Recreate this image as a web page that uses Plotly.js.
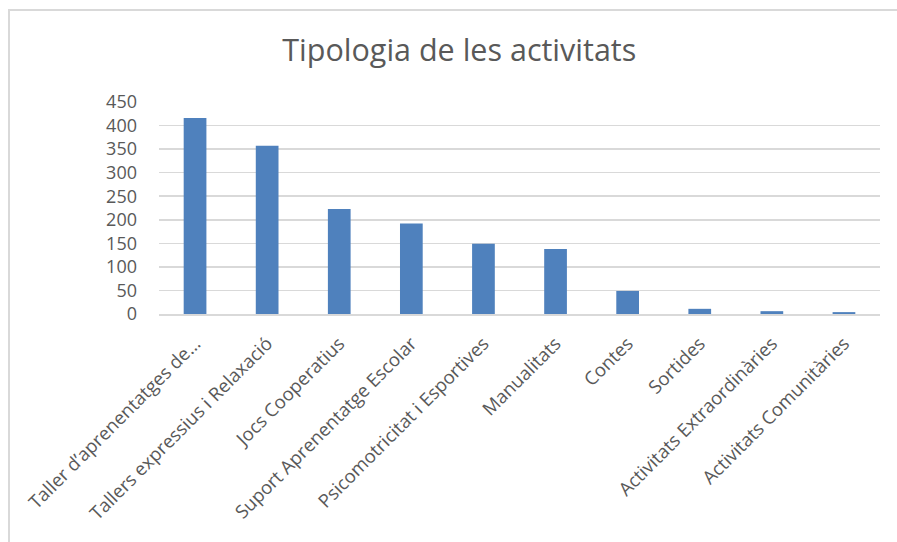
<!DOCTYPE html>
<html>
<head>
<meta charset="utf-8">
<script src="https://cdn.plot.ly/plotly-3.0.1.min.js"></script>
<style>
html,body{margin:0;padding:0;background:#fff;}
#frame{position:absolute;left:8px;top:9px;width:900px;height:540px;border-top:2px solid #d9d9d9;border-left:2px solid #d9d9d9;pointer-events:none;z-index:5;}
#chart{width:897px;height:542px;}
</style>
</head>
<body>
<div id="chart"></div>
<div id="frame"></div>
<script>
const categories = [
  "Taller d’aprenentatges de…",
  "Tallers expressius i Relaxació",
  "Jocs Cooperatius",
  "Suport Aprenentatge Escolar",
  "Psicomotricitat i Esportives",
  "Manualitats",
  "Contes",
  "Sortides",
  "Activitats Extraordinàries",
  "Activitats Comunitàries"
];
const values = [416, 357, 223, 192, 149, 138, 49, 11, 6, 4];
const yTicks = [0, 50, 100, 150, 200, 250, 300, 350, 400, 450];

const trace = {
  type: 'bar',
  x: categories,
  y: values,
  marker: {color: '#4f81bd'},
  hoverinfo: 'x+y'
};

const layout = {
  width: 897, height: 542,
  paper_bgcolor: '#ffffff', plot_bgcolor: '#ffffff',
  margin: {l: 159, r: 17, t: 102, b: 228},
  title: {text: 'Tipologia de les activitats', x: 0.512, xanchor: 'center', y: 0.907, yanchor: 'middle',
          font: {family: 'Open Sans, sans-serif', size: 30.5, color: '#595959'}},
  bargap: 0.685,
  showlegend: false,
  xaxis: {
    type: 'category',
    tickangle: -45,
    tickfont: {family: 'Open Sans, sans-serif', size: 18.5, color: '#595959'},
    showline: true, linecolor: '#d9d9d9', linewidth: 1.5,
    ticks: '', showgrid: false,
    ticklabelstandoff: 10
  },
  yaxis: {
    range: [0, 450],
    tickvals: yTicks,
    ticktext: yTicks.map(String),
    tickfont: {family: 'Open Sans, sans-serif', size: 18, color: '#595959'},
    gridcolor: '#d9d9d9', gridwidth: 1.5,
    zeroline: false, showline: false, ticks: '',
    ticklabelstandoff: 21
  }
};

Plotly.newPlot('chart', [trace], layout, {displayModeBar: false, staticPlot: true});
</script>
</body>
</html>
